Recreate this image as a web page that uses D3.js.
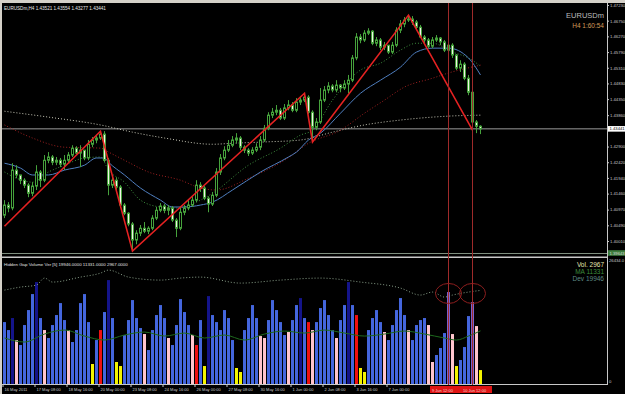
<!DOCTYPE html>
<html lang="en">
<head>
<meta charset="utf-8">
<title>EURUSDm,H4</title>
<script src="https://cdnjs.cloudflare.com/ajax/libs/d3/7.8.5/d3.min.js"></script>
<style>
	body { margin: 0; background: #d4d0c8; }
	svg { display: block; }
</style>
</head>
<body>
<script>
// ---- price data (H4 bars), open of each bar = previous close ----
const firstOpen = 1.4080;
const closes = [
	1.4111,1.4102,1.4218,1.4203,1.4187,1.4172,1.4147,1.4169,1.4212,1.4187,
	1.4248,1.4258,1.4242,1.4248,1.4236,1.4248,1.4264,1.4285,1.4270,1.4279,
	1.4255,1.4297,1.4310,1.4316,1.4328,1.4248,1.4172,1.4187,1.4166,1.4111,
	1.4086,1.4053,1.4004,1.4025,1.4040,1.4031,1.4040,1.4071,1.4095,1.4108,
	1.4095,1.4102,1.4065,1.4040,1.4089,1.4102,1.4111,1.4126,1.4172,1.4163,
	1.4132,1.4114,1.4141,1.4212,1.4255,1.4279,1.4294,1.4310,1.4316,1.4288,
	1.4279,1.4270,1.4279,1.4288,1.4310,1.4346,1.4386,1.4395,1.4401,1.4377,
	1.4408,1.4417,1.4401,1.4426,1.4432,1.4441,1.4395,1.4349,1.4365,1.4432,
	1.4463,1.4475,1.4463,1.4478,1.4469,1.4481,1.4493,1.4561,1.4625,1.4616,
	1.4637,1.4643,1.4606,1.4616,1.4594,1.4600,1.4579,1.4600,1.4646,1.4665,
	1.4677,1.4680,1.4671,1.4655,1.4625,1.4616,1.4597,1.4616,1.4622,1.4610,
	1.4585,1.4600,1.4570,1.4530,1.4542,1.4499,1.4456,1.4365,1.4352,1.4344
];
const highs = [
	1.4126,1.4120,1.4239,1.4233,1.4203,1.4193,1.4178,1.4181,1.4233,1.4218,
	1.4264,1.4273,1.4264,1.4258,1.4255,1.4264,1.4273,1.4294,1.4291,1.4294,
	1.4279,1.4310,1.4319,1.4325,1.4337,1.4337,1.4255,1.4203,1.4196,1.4172,
	1.4117,1.4089,1.4059,1.4034,1.4050,1.4059,1.4046,1.4080,1.4105,1.4117,
	1.4114,1.4111,1.4108,1.4071,1.4105,1.4111,1.4126,1.4138,1.4187,1.4181,
	1.4169,1.4138,1.4151,1.4224,1.4267,1.4291,1.4310,1.4322,1.4331,1.4322,
	1.4294,1.4285,1.4288,1.4300,1.4322,1.4356,1.4395,1.4408,1.4417,1.4408,
	1.4420,1.4432,1.4426,1.4438,1.4441,1.4453,1.4447,1.4401,1.4377,1.4469,
	1.4475,1.4487,1.4481,1.4493,1.4481,1.4493,1.4509,1.4570,1.4637,1.4634,
	1.4646,1.4652,1.4646,1.4625,1.4622,1.4610,1.4600,1.4610,1.4655,1.4677,
	1.4686,1.4692,1.4689,1.4677,1.4662,1.4631,1.4622,1.4625,1.4631,1.4625,
	1.4616,1.4610,1.4606,1.4573,1.4554,1.4548,1.4509,1.4463,1.4371,1.4355
];
const lows = [
	1.4071,1.4089,1.4095,1.4193,1.4175,1.4163,1.4135,1.4138,1.4157,1.4166,
	1.4181,1.4239,1.4233,1.4233,1.4227,1.4218,1.4239,1.4258,1.4264,1.4227,
	1.4248,1.4248,1.4288,1.4300,1.4310,1.4242,1.4141,1.4163,1.4157,1.4102,
	1.4080,1.4046,1.3970,1.3991,1.4016,1.4025,1.4022,1.4034,1.4065,1.4089,
	1.4086,1.4080,1.4059,1.4013,1.4034,1.4080,1.4095,1.4105,1.4120,1.4151,
	1.4126,1.4089,1.4108,1.4135,1.4203,1.4248,1.4273,1.4288,1.4300,1.4279,
	1.4270,1.4261,1.4264,1.4273,1.4279,1.4304,1.4340,1.4377,1.4386,1.4371,
	1.4371,1.4401,1.4395,1.4395,1.4417,1.4426,1.4389,1.4304,1.4340,1.4359,
	1.4426,1.4453,1.4456,1.4456,1.4456,1.4463,1.4453,1.4487,1.4554,1.4606,
	1.4610,1.4631,1.4600,1.4597,1.4585,1.4585,1.4573,1.4573,1.4594,1.4637,
	1.4655,1.4671,1.4662,1.4646,1.4622,1.4606,1.4591,1.4591,1.4610,1.4600,
	1.4579,1.4573,1.4561,1.4524,1.4518,1.4493,1.4447,1.4356,1.4331,1.4328
];

// zigzag turning points: bar index / price
const zigBars = [0, 24, 32, 75, 77, 101, 117];
const zigPrices = [1.4046, 1.4337, 1.3970, 1.4453, 1.4304, 1.4692, 1.4340];

// moving averages (bar index / value)
const maFastBars = [0,3,7,11,15,20,24,26,30,34,39,43,49,52,61,69,74,77,82,89,94,99,103,107,112,116,119];
const maFast = [1.4212,1.4193,1.4181,1.4212,1.4233,1.4255,1.4258,1.4218,1.4181,1.4126,1.4105,1.4102,1.4126,1.4147,1.4233,1.4285,1.4325,1.4340,1.4432,1.4524,1.4545,1.4585,1.4606,1.4606,1.4579,1.4561,1.4536];
const maMidBars = [0,4,7,11,15,20,23,25,26,30,34,39,42,45,49,52,57,64,71,73,76,79,84,89,94,99,103,107,111,116,119];
const maMid = [1.4239,1.4224,1.4203,1.4203,1.4218,1.4233,1.4255,1.4255,1.4242,1.4203,1.4163,1.4126,1.4105,1.4105,1.4111,1.4120,1.4157,1.4212,1.4258,1.4273,1.4310,1.4331,1.4392,1.4453,1.4493,1.4533,1.4579,1.4591,1.4591,1.4561,1.4509];
const maSlowBars = [0,7,15,24,26,30,36,44,49,53,61,70,76,84,90,95,100,107,111,119];
const maSlow = [1.4356,1.4316,1.4288,1.4285,1.4273,1.4248,1.4212,1.4187,1.4163,1.4157,1.4193,1.4248,1.4300,1.4340,1.4392,1.4432,1.4472,1.4499,1.4515,1.4539];
const maLongBars = [0,11,24,32,40,52,57,65,74,82,90,99,107,111,119];
const maLong = [1.4398,1.4380,1.4356,1.4334,1.4316,1.4297,1.4300,1.4304,1.4310,1.4334,1.4356,1.4371,1.4380,1.4383,1.4386];

// volume indicator
const volumes = [
	13200,11500,14060,9370,8310,12570,15760,19170,21730,14060,
	11500,9800,12570,14700,17250,13630,11500,8950,11500,17250,
	19170,13200,4260,9370,11500,15340,22150,14060,4690,3830,
	10440,13630,17890,14060,11930,10650,7240,11500,14700,16830,
	14060,9800,8310,12570,18100,15340,12570,10440,8310,13630,
	3830,18740,14700,13200,11500,15760,14060,9370,3410,2560,
	11500,14060,16830,14060,10220,9800,13630,17890,15760,13200,
	10440,11080,13630,16830,18320,14060,13200,11500,13200,16190,
	17890,14700,11500,9800,13630,16830,21730,16830,14700,3410,
	2560,11500,14060,15760,13200,11080,9370,12570,15760,18320,
	14700,11500,9370,12570,13630,14060,12570,4690,6180,7670,
	10860,19600,10650,3830,5110,7880,14480,17470,12350,2967
];
const volKinds = [
	"b","b","n","p","b","b","b","b","n","b",
	"p","b","b","b","b","b","p","b","b","b",
	"b","b","y","b","r","b","n","b","y","y",
	"b","b","b","b","b","p","b","b","b","b",
	"b","p","b","b","b","b","b","p","r","b",
	"y","n","b","b","b","b","b","b","y","y",
	"b","b","b","b","p","p","b","b","b","b",
	"b","p","b","b","n","b","r","p","b","b",
	"b","b","b","p","b","b","n","b","r","y",
	"y","b","b","b","b","p","b","b","b","b",
	"b","p","b","b","b","b","p","p","b","b",
	"b","v","p","y","b","b","b","v","p","y"
];
const volMaBars = [0,5,10,15,20,25,30,35,40,45,50,55,60,65,70,75,80,85,90,95,100,105,110,113,116,119];
const volMa = [9800,8950,10650,11500,10220,9370,10440,11080,10220,10860,9800,10440,9370,10650,11290,10860,11500,10860,10220,10650,11290,10650,9800,9370,10220,11331];
const volDevBars = [0,4,8,10,12,19,24,26,31,39,44,49,59,69,79,89,99,104,107,110,112,116,119];
const volDev = [20020,20660,21090,22580,21730,22790,23640,24280,22790,22150,22580,22790,21510,22150,22580,21730,20450,18960,19600,18530,18960,19600,19946];
const volMax = 26434.0;

// axis labels
const priceTicks = [1.4723,1.4675,1.4627,1.4579,1.4531,1.4483,1.4435,1.4386,1.4290,1.4242,1.4194,1.4146,1.4097,1.4049,1.4001];
const timeTickBars = [0,8,16,24,32,40,48,56,64,72,80,88,96];
const timeTickLabels = ["16 May 2011","17 May 08:00","18 May 16:00","20 May 00:00","23 May 08:00","24 May 16:00","26 May 00:00","27 May 08:00","30 May 16:00","1 Jun 00:00","2 Jun 08:00","3 Jun 16:00","7 Jun 00:00"];
const vLineBars = [111, 117];
const vLineLabels = ["9 Jun 12:00", "10 Jun 12:00"];

const W = 625, H = 394;
const N = closes.length;
const green = "#46a23c";
const font = "Liberation Sans, Arial, sans-serif";

const svg = d3.select("body").append("svg")
	.attr("width", W)
	.attr("height", H);

svg.append("rect").attr("width", W).attr("height", H).attr("fill", "#d4d0c8");
svg.append("rect").attr("x", 2).attr("y", 3).attr("width", W - 2).attr("height", H - 3).attr("fill", "#000");

// Scales
const x = d3.scaleBand()
	.domain(d3.range(N))
	.range([3, 3 + 4 * N - 1])
	.paddingInner(0.25)
	.paddingOuter(0);
const cx = i => x(i) + 1.5;

const y = d3.scaleLinear()
	.domain([1.39643, 1.47291])
	.range([253, 3]);

const vy = d3.scaleLinear()
	.domain([0, volMax])
	.range([384, 260]);

const defs = svg.append("defs");
defs.append("clipPath").attr("id", "clipMain")
	.append("rect").attr("x", 2).attr("y", 3).attr("width", 605).attr("height", 250);
defs.append("clipPath").attr("id", "clipVol")
	.append("rect").attr("x", 2).attr("y", 259).attr("width", 605).attr("height", 125);

const main = svg.append("g").attr("clip-path", "url(#clipMain)");
const vol = svg.append("g").attr("clip-path", "url(#clipVol)");

// price line / panel lines
main.append("line").attr("x1", 2).attr("x2", 607).attr("y1", y(1.43441)).attr("y2", y(1.43441))
	.attr("stroke", "#9a9a9a").attr("stroke-width", 1);
svg.append("line").attr("x1", 2).attr("x2", 607).attr("y1", 253.5).attr("y2", 253.5)
	.attr("stroke", "#7f8f7f");
svg.append("rect").attr("x", 2).attr("y", 256.5).attr("width", 605).attr("height", 1.5).attr("fill", "#c8c8c8");
svg.append("line").attr("x1", 607.5).attr("x2", 607.5).attr("y1", 3).attr("y2", 385)
	.attr("stroke", "#c8c8c8");
svg.append("line").attr("x1", 2).attr("x2", 608).attr("y1", 384.5).attr("y2", 384.5)
	.attr("stroke", "#c8c8c8");

// Moving averages
function maLine(bars, vals, yScale) {
	return d3.line()
		.x((d, k) => cx(bars[k]))
		.y(d => yScale(d))
		.curve(d3.curveMonotoneX)(vals);
}
main.append("path").attr("d", maLine(maLongBars, maLong, y))
	.attr("fill", "none").attr("stroke", "#c8c8b8").attr("stroke-width", 1).attr("stroke-dasharray", "1,2");
main.append("path").attr("d", maLine(maSlowBars, maSlow, y))
	.attr("fill", "none").attr("stroke", "#a02020").attr("stroke-width", 1).attr("stroke-dasharray", "1,2");
main.append("path").attr("d", maLine(maFastBars, maFast, y))
	.attr("fill", "none").attr("stroke", "#3e8e3e").attr("stroke-width", 1).attr("stroke-dasharray", "1,2");
main.append("path").attr("d", maLine(maMidBars, maMid, y))
	.attr("fill", "none").attr("stroke", "#4f7fc0").attr("stroke-width", 1);

// Candles
const opens = closes.map((c, i) => i === 0 ? firstOpen : closes[i - 1]);

main.selectAll("line.wick")
	.data(closes)
	.enter()
	.append("line")
	.attr("class", "wick")
	.attr("x1", (d, i) => cx(i))
	.attr("x2", (d, i) => cx(i))
	.attr("y1", (d, i) => y(highs[i]))
	.attr("y2", (d, i) => y(lows[i]))
	.attr("stroke", green);

main.selectAll("rect.body")
	.data(closes)
	.enter()
	.append("rect")
	.attr("class", "body")
	.attr("x", (d, i) => x(i) + 0.5)
	.attr("y", (d, i) => y(Math.max(d, opens[i])))
	.attr("width", x.bandwidth() - 1)
	.attr("height", (d, i) => Math.max(1, Math.abs(y(d) - y(opens[i]))))
	.attr("fill", (d, i) => d >= opens[i] ? "#000" : "#f2f2e6")
	.attr("stroke", green)
	.attr("stroke-width", 1);

// Zigzag
main.append("path")
	.attr("d", d3.line().x((d, k) => cx(zigBars[k])).y(d => y(d))(zigPrices))
	.attr("fill", "none")
	.attr("stroke", "#e52222")
	.attr("stroke-width", 1.6);

// Volume bars
const volColor = { b: "#4466dd", n: "#14148a", p: "#ffc4cc", y: "#f4f400", r: "#f01010", v: "#7a60cc" };
vol.selectAll("rect.vol")
	.data(volumes)
	.enter()
	.append("rect")
	.attr("class", "vol")
	.attr("x", (d, i) => x(i))
	.attr("y", d => vy(d))
	.attr("width", x.bandwidth())
	.attr("height", d => vy(0) - vy(d))
	.attr("fill", (d, i) => volColor[volKinds[i]]);

vol.append("path").attr("d", maLine(volDevBars, volDev, vy))
	.attr("fill", "none").attr("stroke", "#8aa08a").attr("stroke-width", 1).attr("stroke-dasharray", "1,2");
vol.append("path").attr("d", maLine(volMaBars, volMa, vy))
	.attr("fill", "none").attr("stroke", "#1e6a1e").attr("stroke-width", 1);

// Vertical lines and circles
svg.selectAll("line.vline")
	.data(vLineBars)
	.enter()
	.append("line")
	.attr("class", "vline")
	.attr("x1", d => cx(d))
	.attr("x2", d => cx(d))
	.attr("y1", 3)
	.attr("y2", 385)
	.attr("stroke", "#9e2a2a")
	.attr("stroke-width", 1);

svg.selectAll("ellipse.mark")
	.data(vLineBars)
	.enter()
	.append("ellipse")
	.attr("class", "mark")
	.attr("cx", d => cx(d))
	.attr("cy", d => vy(volDev[volDevBars.indexOf(d)] || 19300))
	.attr("rx", 13)
	.attr("ry", 10)
	.attr("fill", "none")
	.attr("stroke", "#8e1e1e")
	.attr("stroke-width", 1);

// Price axis
const yAxis = d3.axisRight(y)
	.tickValues(priceTicks)
	.tickSize(2)
	.tickFormat(d3.format(".5f"));
const gy = svg.append("g")
	.attr("transform", "translate(607,0)")
	.call(yAxis);
gy.select(".domain").remove();
gy.selectAll("line").attr("stroke", "#c8c8c8");
gy.selectAll("text")
	.attr("x", 3)
	.attr("fill", "#c8c8c8")
	.attr("font-family", font)
	.attr("font-size", "4.2px");

// current price label
const cp = svg.append("g").attr("transform", `translate(608,${y(1.43441)})`);
cp.append("rect").attr("x", 0).attr("y", -2.8).attr("width", 17).attr("height", 5.6).attr("fill", "#ffffff");
cp.append("text").attr("x", 1.5).attr("y", 1.5).text("1.43441")
	.attr("font-family", font).attr("font-size", "4.2px").attr("fill", "#000");
const bp = svg.append("g").attr("transform", "translate(608,253)");
bp.append("rect").attr("x", 0).attr("y", -2.8).attr("width", 17).attr("height", 5.6).attr("fill", "#3d7d3d");
bp.append("text").attr("x", 1.5).attr("y", 1.5).text("1.39643")
	.attr("font-family", font).attr("font-size", "4.2px").attr("fill", "#d8d8d8");

// Volume axis labels
svg.append("text").attr("x", 609).attr("y", vy(volMax) + 1.5).text(d3.format(".1f")(volMax))
	.attr("font-family", font).attr("font-size", "4.2px").attr("fill", "#c8c8c8");
svg.append("text").attr("x", 609).attr("y", vy(0) - 1).text("0")
	.attr("font-family", font).attr("font-size", "4.2px").attr("fill", "#c8c8c8");

// Time axis
const xAxis = d3.axisBottom(x)
	.tickValues(timeTickBars)
	.tickSize(2)
	.tickFormat((d, k) => timeTickLabels[k]);
const gx = svg.append("g")
	.attr("transform", "translate(-1.5,385)")
	.call(xAxis);
gx.select(".domain").remove();
gx.selectAll("line").attr("stroke", "#c8c8c8");
gx.selectAll("text")
	.attr("text-anchor", "start")
	.attr("x", 1.5)
	.attr("y", 3)
	.attr("dy", "0.71em")
	.attr("fill", "#c8c8c8")
	.attr("font-family", font)
	.attr("font-size", "4px");

// red time labels of the vertical lines
svg.append("rect").attr("x", 430).attr("y", 386).attr("width", 62).attr("height", 7).attr("fill", "#e01414");
svg.selectAll("text.vlab")
	.data(vLineLabels)
	.enter()
	.append("text")
	.attr("class", "vlab")
	.attr("x", (d, i) => 432 + i * 31)
	.attr("y", 391.5)
	.text(d => d)
	.attr("fill", "#f0d0d0")
	.attr("font-family", font)
	.attr("font-size", "4px");

// Titles and legends
svg.append("text").attr("x", 4).attr("y", 10)
	.text("EURUSDm,H4  1.43521 1.43554 1.43277 1.43441")
	.attr("fill", "#e8e8e8").attr("font-family", font).attr("font-size", "4.6px");
svg.append("text").attr("x", 604).attr("y", 18).attr("text-anchor", "end")
	.text("EURUSDm")
	.attr("fill", "#bcbcbc").attr("font-family", font).attr("font-size", "7.5px");
svg.append("text").attr("x", 604).attr("y", 28).attr("text-anchor", "end")
	.text("H4    1:60:54")
	.attr("fill", "#d49a5a").attr("font-family", font).attr("font-size", "6.5px");

svg.append("text").attr("x", 4).attr("y", 266)
	.text("Hidden Gap Volume Ver [5] 19946.0000 11331.0000 2967.0000")
	.attr("fill", "#e0e0e0").attr("font-family", font).attr("font-size", "4.4px");

const legend = [
	{ t: "Vol.  2967", c: "#e4e4b0" },
	{ t: "MA  11331", c: "#3c8c3c" },
	{ t: "Dev  19946", c: "#5e8a84" }
];
svg.selectAll("text.leg")
	.data(legend)
	.enter()
	.append("text")
	.attr("class", "leg")
	.attr("x", 604)
	.attr("y", (d, i) => 266.5 + i * 7)
	.attr("text-anchor", "end")
	.text(d => d.t)
	.attr("fill", d => d.c)
	.attr("font-family", font)
	.attr("font-size", "6.5px");
</script>
</body>
</html>
